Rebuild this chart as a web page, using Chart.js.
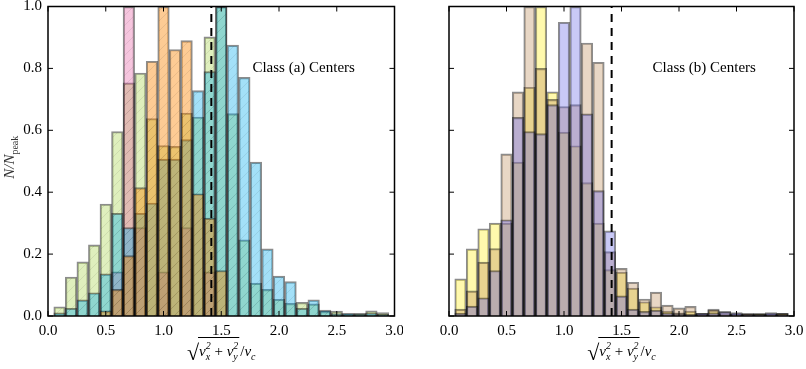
<!DOCTYPE html>
<html>
<head>
<meta charset="utf-8">
<script src="https://cdn.jsdelivr.net/npm/chart.js@4.4.0/dist/chart.umd.min.js"></script>
<style>
body{margin:0;background:#fff;}
#wrap{position:relative;width:806px;height:369px;}
canvas{position:absolute;top:0;}
</style>
</head>
<body>
<div id="wrap">
<canvas id="left" width="403" height="369" style="left:0"></canvas>
<canvas id="right" width="403" height="369" style="left:403px"></canvas>
</div>
<script>
// bin centres (width 0.1)
var centers = [0.1,0.2,0.3,0.4,0.5,0.6,0.7,0.8,0.9,1.0,1.1,1.2,1.3,1.4,1.5,1.6,1.7,1.8,1.9,2.0,2.1,2.2,2.3,2.4,2.5,2.6,2.7,2.8,2.9];
var xTicks = [0,0.5,1,1.5,2,2.5,3];
var yTicks = [0,0.2,0.4,0.6,0.8,1.0];
var vEsc = Math.SQRT2;

// class (a)
var aGreen  = [0.03,0.126,0.175,0.23,0.362,0.596,0.753,0.785,0.638,0.551,0.548,0.656,0.643,0.902,1.0,0.654,0.246,0.106,0.086,0.054,0.041,0.044,0.039,0.015,0.016,0.006,0.009,0.017,0.011];
var aPink   = [0,0,0,0,0,0.143,1.0,0.286,0,0.143,0,0.286,0,0.143,0,0,0,0,0,0,0,0,0,0,0,0,0,0,0];
var aOrange = [0,0,0,0,0.017,0.086,0.195,0.415,0.823,1.0,0.861,0.89,0.395,0.316,0.147,0,0,0,0,0,0,0,0,0,0,0,0,0,0];
var aBlue   = [0.01,0.025,0.052,0.075,0.136,0.332,0.286,0.332,0.365,0.507,0.507,0.57,0.728,0.79,1.0,0.875,0.771,0.497,0.217,0.129,0.111,0.025,0.052,0.019,0.008,0.009,0.006,0.01,0.005];

// class (b)
var bYellow = [0.12,0.217,0.282,0.3,0.3,0.497,0.739,1.0,0.724,0.594,0.55,0.431,0.3,0.15,0.142,0.09,0.046,0.03,0.016,0.01,0.016,0.005,0.018,0.005,0.005,0.005,0.009,0.005,0.009];
var bTan    = [0.022,0.081,0.174,0.218,0.524,0.724,1.0,0.8,0.7,0.677,0.683,0.882,0.82,0.208,0.154,0.109,0.055,0.077,0.035,0.026,0.031,0.009,0.022,0.014,0.008,0.009,0.005,0.008,0.009];
var bPurple = [0.009,0.032,0.059,0.147,0.311,0.642,0.596,0.589,0.683,0.949,1.0,0.653,0.405,0.275,0.065,0.022,0.015,0.019,0.01,0.008,0.005,0.009,0.01,0.014,0.011,0.005,0.005,0.011,0.005];

var SERIF = '"Liberation Serif", "DejaVu Serif", serif';

function hatch(rgba){
  var c = document.createElement('canvas'); c.width = 10; c.height = 10;
  var x = c.getContext('2d');
  x.fillStyle = rgba; x.fillRect(0,0,10,10);
  x.strokeStyle = 'rgba(0,0,0,0.1)'; x.lineWidth = 0.8;
  x.beginPath();
  x.moveTo(0,10); x.lineTo(10,0);
  x.moveTo(-5,5); x.lineTo(5,-5);
  x.moveTo(5,15); x.lineTo(15,5);
  x.stroke();
  return x.createPattern(c,'repeat');
}

function bars(vals, fill, order){
  return {
    type:'bar',
    data: centers.map(function(c,i){ return {x:c, y: vals[i] ? vals[i] : null}; }),
    backgroundColor: fill,
    borderColor: 'rgba(0,0,0,0.45)',
    borderWidth: 1.5,
    grouped: false,
    barPercentage: 1,
    categoryPercentage: 1,
    order: order
  };
}

function escLine(){
  return {
    type:'line',
    data:[{x:vEsc,y:0},{x:vEsc,y:1}],
    borderColor:'#000', borderWidth:2, borderDash:[8,6],
    pointRadius:0, order:0
  };
}

function drawPieces(ctx, pieces, x0, base){
  var x = x0;
  pieces.forEach(function(p){
    ctx.font = p.f;
    if (p.stack){
      ctx.fillText(p.sub, x, base + 4);
      ctx.fillText(p.sup, x, base - 7);
      x += Math.max(ctx.measureText(p.sub).width, ctx.measureText(p.sup).width);
    } else {
      ctx.fillText(p.t, x, base + (p.dy || 0));
      x += ctx.measureText(p.t).width;
    }
  });
  return x;
}
function widthOf(ctx, pieces){
  var w = 0;
  pieces.forEach(function(p){
    ctx.font = p.f;
    if (p.stack) w += Math.max(ctx.measureText(p.sub).width, ctx.measureText(p.sup).width);
    else w += ctx.measureText(p.t).width;
  });
  return w;
}

var decor = {
  id:'decor',
  afterDraw:function(chart, args, opts){
    var ctx = chart.ctx, a = chart.chartArea, sx = chart.scales.x, sy = chart.scales.y;
    ctx.save();
    ctx.strokeStyle = '#000'; ctx.lineWidth = 1;
    ctx.beginPath();
    xTicks.forEach(function(t){
      var p = sx.getPixelForValue(t);
      ctx.moveTo(p, a.bottom); ctx.lineTo(p, a.bottom - 5);
      ctx.moveTo(p, a.top); ctx.lineTo(p, a.top + 5);
    });
    yTicks.forEach(function(t){
      var p = sy.getPixelForValue(t);
      ctx.moveTo(a.left, p); ctx.lineTo(a.left + 5, p);
      ctx.moveTo(a.right, p); ctx.lineTo(a.right - 5, p);
    });
    ctx.stroke();
    ctx.lineWidth = 1.5;
    ctx.strokeRect(a.left, a.top, a.right - a.left, a.bottom - a.top);

    ctx.fillStyle = '#000';
    ctx.textBaseline = 'middle';
    ctx.font = '15px ' + SERIF;
    ctx.fillText(opts.note, a.left + 0.59*(a.right - a.left), a.top + 0.2*(a.bottom - a.top));

    // x axis label: sqrt(v_x^2 + v_y^2)/v_c
    ctx.textBaseline = 'alphabetic';
    var it = 'italic 15px ' + SERIF, sm = 'italic 10px ' + SERIF, up = '10px ' + SERIF, rm = '15px ' + SERIF;
    var rad = [{t:'v',f:it},{stack:true,sub:'x',sup:'2',f:sm},{t:' + ',f:rm},{t:'v',f:it},{stack:true,sub:'y',sup:'2',f:sm}];
    var tail = [{t:'/',f:rm},{t:'v',f:it},{t:'c',f:sm,dy:4}];
    ctx.font = '22px ' + SERIF;
    var wr = ctx.measureText('\u221A').width;
    var wRad = widthOf(ctx, rad), wTail = widthOf(ctx, tail);
    var total = wr + wRad + 2 + wTail;
    var base = 356;
    var x0 = (a.left + a.right)/2 - total/2;
    ctx.font = '22px ' + SERIF;
    ctx.fillText('\u221A', x0, base + 4);
    ctx.lineWidth = 1;
    ctx.beginPath(); ctx.moveTo(x0 + wr - 1, base - 18.5); ctx.lineTo(x0 + wr + wRad + 1, base - 18.5); ctx.stroke();
    var xe = drawPieces(ctx, rad, x0 + wr, base);
    drawPieces(ctx, tail, xe + 2, base);

    if (opts.ylabel){
      ctx.save();
      ctx.fillStyle = '#333';
      ctx.translate(14, (a.top + a.bottom)/2 - 4);
      ctx.rotate(-Math.PI/2);
      var yl = [{t:'N/N',f:it},{t:'peak',f:up,dy:4}];
      var wy = widthOf(ctx, yl);
      drawPieces(ctx, yl, -wy/2, 0);
      ctx.restore();
    }
    ctx.restore();
  }
};

function options(showY, yWidth, padRight, note){
  return {
    responsive:false,
    animation:false,
    layout:{padding:{top:6.5,right:padRight,left:0,bottom:0}},
    plugins:{legend:{display:false}, tooltip:{enabled:false}, decor:{note:note, ylabel:showY}},
    scales:{
      x:{
        type:'linear', min:0, max:3, offset:false,
        grid:{display:false, drawTicks:false}, border:{display:false},
        ticks:{stepSize:0.5, padding:6, color:'#000', maxRotation:0,
               font:{family:SERIF, size:15},
               callback:function(v){ return v.toFixed(1); }},
        afterFit:function(s){ s.height = 53; s.paddingLeft = 0; s.paddingRight = 0; }
      },
      y:{
        min:0, max:1,
        grid:{display:false, drawTicks:false}, border:{display:false},
        ticks:{display:showY, stepSize:0.2, padding:6, color:'#000',
               font:{family:SERIF, size:15},
               callback:function(v){ return v.toFixed(1); }},
        afterFit:function(s){ s.width = yWidth; s.paddingTop = 0; s.paddingBottom = 0; }
      }
    }
  };
}

// drawing order bottom -> top: green, pink, blue, orange
new Chart(document.getElementById('left').getContext('2d'), {
  type:'bar',
  data:{datasets:[
    escLine(),
    bars(aOrange, hatch('rgba(250,130,0,0.42)'), 1),
    bars(aBlue,   hatch('rgba(0,170,235,0.36)'), 2),
    bars(aPink,   hatch('rgba(230,90,160,0.35)'), 3),
    bars(aGreen,  hatch('rgba(154,205,50,0.32)'), 4)
  ]},
  options: options(true, 48, 8.5, 'Class (a) Centers'),
  plugins:[decor]
});

new Chart(document.getElementById('right').getContext('2d'), {
  type:'bar',
  data:{datasets:[
    escLine(),
    bars(bPurple, 'rgba(100,100,230,0.35)', 1),
    bars(bTan,    'rgba(190,140,90,0.35)', 2),
    bars(bYellow, 'rgba(255,235,0,0.32)', 3)
  ]},
  options: options(false, 46, 12, 'Class (b) Centers'),
  plugins:[decor]
});
</script>
</body>
</html>
